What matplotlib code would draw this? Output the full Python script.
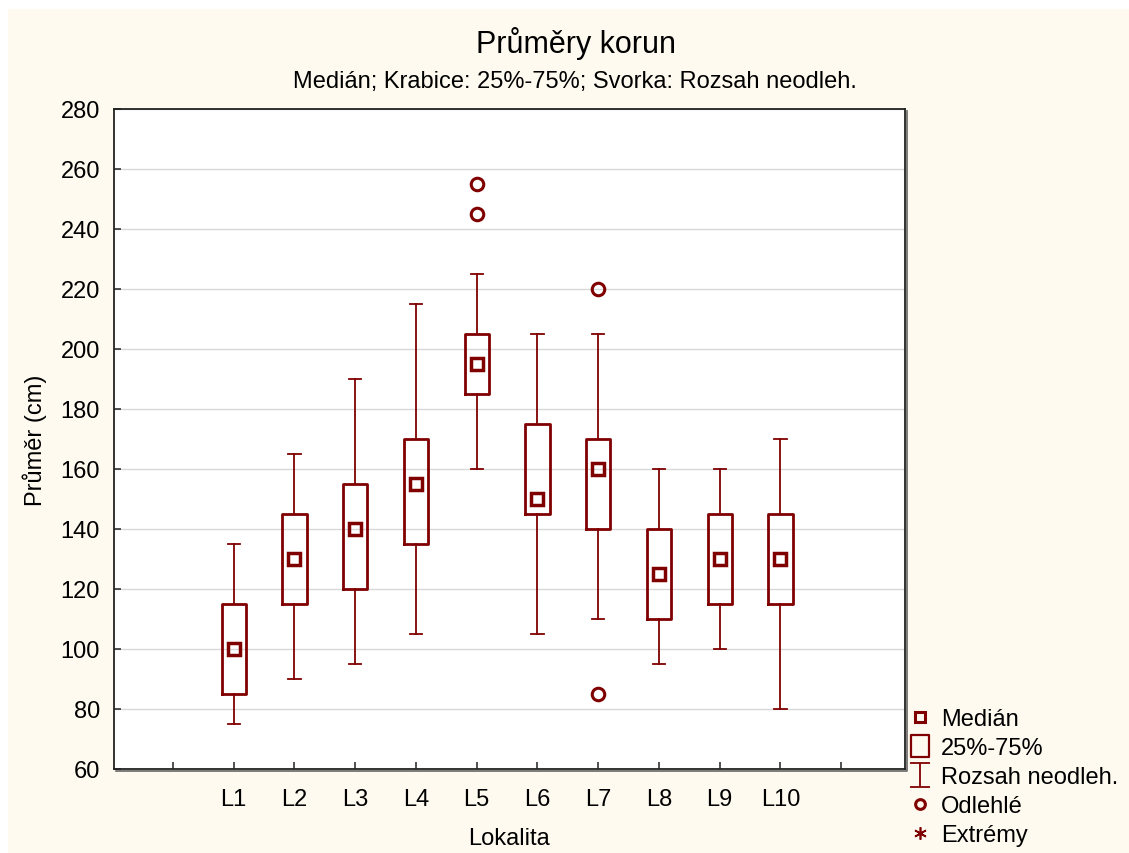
import numpy as np
import matplotlib.pyplot as plt
from matplotlib.lines import Line2D
from matplotlib.path import Path

plt.rcParams['font.family'] = ['Liberation Sans', 'DejaVu Sans']

# Souhrnné statistiky průměrů korun podle lokalit
lokality = ['L1', 'L2', 'L3', 'L4', 'L5', 'L6', 'L7', 'L8', 'L9', 'L10']
dolni = [75, 90, 95, 105, 160, 105, 110, 95, 100, 80]
q1 = [85, 115, 120, 135, 185, 145, 140, 110, 115, 115]
median = [100, 130, 140, 155, 195, 150, 160, 125, 130, 130]
q3 = [115, 145, 155, 170, 205, 175, 170, 140, 145, 145]
horni = [135, 165, 190, 215, 225, 205, 205, 160, 160, 170]
odlehle = [[], [], [], [], [245, 255], [], [220, 85], [], [], []]

barva = '#800000'
bg = '#fefaf0'

fig = plt.figure(figsize=(11.29, 8.54), dpi=100, facecolor='white')
# krémové pozadí grafu
fig.patches.append(plt.Rectangle((8 / 1129, 0), 1, (854 - 10) / 854,
                                 transform=fig.transFigure, facecolor=bg,
                                 edgecolor='none', zorder=-10))
ax = fig.add_axes([114 / 1129, 84 / 854, (905 - 114) / 1129, 660 / 854])
ax.set_facecolor('white')

# stín rámečku vpravo a dole
fig.add_artist(Line2D([116 / 1129, 907 / 1129, 907 / 1129],
                      [82 / 854, 82 / 854, 742 / 854],
                      transform=fig.transFigure, color='#666666',
                      linewidth=1.2, zorder=1))

pozice = np.arange(1, len(lokality) + 1)
stats = []
for i, lab in enumerate(lokality):
    stats.append(dict(label=lab, whislo=dolni[i], q1=q1[i], med=median[i],
                      q3=q3[i], whishi=horni[i], fliers=odlehle[i]))

ax.bxp(stats, positions=pozice, widths=0.4, showfliers=True,
       boxprops=dict(color=barva, linewidth=2.0),
       whiskerprops=dict(color=barva, linewidth=1.3),
       capprops=dict(color=barva, linewidth=1.3),
       capwidths=0.2,
       medianprops=dict(linestyle='none'),
       flierprops=dict(marker='o', markersize=9, markerfacecolor='none',
                       markeredgecolor=barva, markeredgewidth=2.2),
       zorder=3)
ax.plot(pozice, median, linestyle='none', marker='s', markersize=9,
        markerfacecolor='none', markeredgecolor=barva, markeredgewidth=2.5,
        zorder=4)

ax.set_xlim(-0.97, 12.05)
ax.set_ylim(60, 280)
ax.set_xticks(np.arange(0, 12))
ax.set_xticklabels([''] + lokality + [''])
ax.set_yticks(np.arange(60, 281, 20))
ax.yaxis.grid(True, color='#d8d8d8', linewidth=1.0, zorder=0)
ax.set_axisbelow(True)
ax.tick_params(direction='in', length=5, width=1.2, color='#333333',
               labelsize=17, pad=10)
ax.tick_params(axis='x', pad=14)
for s in ax.spines.values():
    s.set_color('#222222')
    s.set_linewidth(1.3)

ax.set_xlabel('Lokalita', fontsize=17, labelpad=12)
ax.set_ylabel('Průměr (cm)', fontsize=17, labelpad=10)

fig.text(576 / 1129, 1 - 43 / 854, 'Průměry korun', fontsize=22,
         ha='center', va='center')
fig.text(575 / 1129, 1 - 82 / 854,
         'Medián; Krabice: 25%-75%; Svorka: Rozsah neodleh.', fontsize=17,
         ha='center', va='center')

# značky legendy
obdelnik = Path([(-0.85, -1), (0.85, -1), (0.85, 1), (-0.85, 1), (-0.85, -1)],
                [Path.MOVETO, Path.LINETO, Path.LINETO, Path.LINETO,
                 Path.CLOSEPOLY])
svorka = Path([(-0.85, -1), (0.85, -1), (0, -1), (0, 1), (-0.85, 1), (0.85, 1)],
              [Path.MOVETO, Path.LINETO, Path.MOVETO, Path.LINETO,
               Path.MOVETO, Path.LINETO])
handles = [
    Line2D([], [], linestyle='none', marker='s', markersize=7,
           markerfacecolor='none', markeredgecolor=barva, markeredgewidth=2.2),
    Line2D([], [], linestyle='none', marker=obdelnik, markersize=16,
           markerfacecolor='none', markeredgecolor=barva, markeredgewidth=1.6),
    Line2D([], [], linestyle='none', marker=svorka, markersize=17,
           markerfacecolor='none', markeredgecolor=barva, markeredgewidth=1.3),
    Line2D([], [], linestyle='none', marker='o', markersize=7,
           markerfacecolor='none', markeredgecolor=barva, markeredgewidth=2.2),
    Line2D([], [], linestyle='none', marker=(6, 2, 0), markersize=9,
           markeredgecolor=barva, markeredgewidth=1.2),
]
popisky = ['Medián', '25%-75%', 'Rozsah neodleh.', 'Odlehlé', 'Extrémy']
fig.legend(handles, popisky, loc='lower left',
           bbox_to_anchor=(903 / 1129, 2 / 854), frameon=False, fontsize=17,
           handlelength=1.0, handletextpad=0.4, labelspacing=0.3,
           borderaxespad=0, borderpad=0.2)

fig.savefig('out.png', dpi=100, facecolor='white')
